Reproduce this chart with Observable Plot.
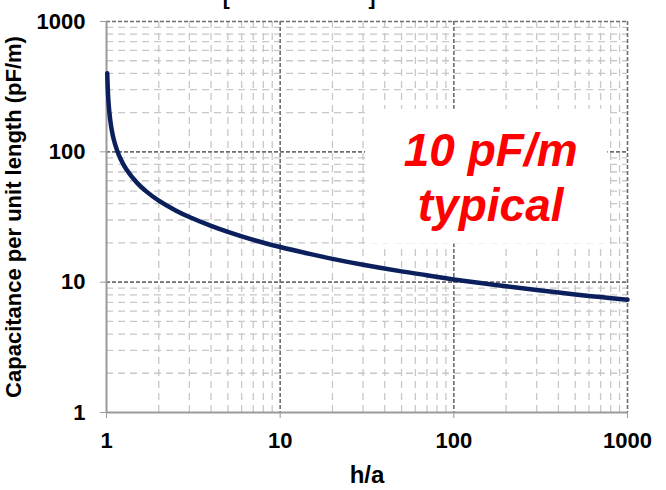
<!DOCTYPE html>
<html>
<head>
<meta charset="utf-8">
<script src="https://cdn.jsdelivr.net/npm/d3@7"></script>
<script src="https://cdn.jsdelivr.net/npm/@observablehq/plot@0.6"></script>
<style>
  html, body { margin: 0; padding: 0; background: white; }
  #chart svg { display: block; }
</style>
</head>
<body>
<div id="chart"></div>
<script>
// Curve: h/a vs capacitance per unit length (pF/m)
const ratio =       [1.01, 1.02, 1.03, 1.05, 1.07, 1.1, 1.15, 1.2, 1.3, 1.5, 1.7, 2, 2.5, 3, 4, 5, 7, 10, 15, 20, 30, 50, 70, 100, 150, 200, 300, 500, 700, 1000];
const capacitance = [400, 279, 228, 177, 149, 125, 103, 89.4, 73.5, 57.8, 49.5, 42.2, 35.5, 31.6, 27.0, 24.3, 21.1, 18.6, 16.4, 15.1, 13.6, 12.1, 11.3, 10.5, 9.75, 9.29, 8.70, 8.05, 7.68, 7.32];

// Tick values
const xMajor = [1, 10, 100, 1000];
const yMajor = [1, 10, 100, 1000];
const xMinor = [2,3,4,5,6,7,8,9,20,30,40,50,60,70,80,90,200,300,400,500,600,700,800,900];
const yMinor = [2,3,4,5,6,7,8,9,20,30,40,50,60,70,80,90,200,300,400,500,600,700,800,900];

// Annotation
const noteLines = ["10 pF/m", "typical"];
const noteX = [163, 163];
const noteY = [100.5, 38.2];
const noteBox = [{x1: 31, x2: 770, y1: 19.6, y2: 212}];

// Cut-off title brackets at the top edge
const bracketText = ["[", "]"];
const bracketX = [4.9, 33.8];
const bracketY = [1497, 1497];

const data = ratio.map((r, i) => ({r, c: capacitance[i]}));
const notes = noteLines.map((t, i) => ({t, x: noteX[i], y: noteY[i]}));
const brackets = bracketText.map((t, i) => ({t, x: bracketX[i], y: bracketY[i]}));

const font = "'Liberation Sans', Arial, Helvetica, sans-serif";

const chart = Plot.plot({
  width: 666,
  height: 490,
  marginLeft: 106,
  marginRight: 39,
  marginTop: 21,
  marginBottom: 78,
  style: {fontFamily: font, fontWeight: "bold", fontSize: "22px", color: "#000", background: "white"},
  x: {type: "log", domain: [1, 1000]},
  y: {type: "log", domain: [1, 1000]},
  marks: [
    Plot.ruleX(xMinor, {stroke: "#c8c8c8", strokeWidth: 1.3, strokeDasharray: "7,5"}),
    Plot.ruleY(yMinor, {stroke: "#c8c8c8", strokeWidth: 1.3, strokeDasharray: "7,5"}),
    Plot.ruleX(xMajor.slice(1), {stroke: "#6e6e6e", strokeWidth: 1.6, strokeDasharray: "4,2"}),
    Plot.ruleY(yMajor.slice(1), {stroke: "#6e6e6e", strokeWidth: 1.6, strokeDasharray: "4,2"}),
    Plot.rect(noteBox, {x1: "x1", x2: "x2", y1: "y1", y2: "y2", fill: "white"}),
    Plot.ruleX([xMajor[0]], {stroke: "#9a9a9a", strokeWidth: 2}),
    Plot.ruleY([yMajor[0]], {stroke: "#9a9a9a", strokeWidth: 2}),
    Plot.line(data, {x: "r", y: "c", stroke: "#0b1f5c", strokeWidth: 4.5, curve: "catmull-rom"}),
    Plot.text(notes, {x: "x", y: "y", text: "t", fill: "#ff0000", fontSize: 46, fontStyle: "italic", fontWeight: "bold", fontFamily: font}),
    Plot.text(brackets, {x: "x", y: "y", text: "t", fill: "#000", fontSize: 21, fontWeight: "bold", fontFamily: font}),
    Plot.axisX({ticks: xMajor, tickFormat: d => String(d), tickSize: 6, tickPadding: 14, stroke: "#9a9a9a", fill: "#000",
      fontSize: 22, label: null}),
    Plot.axisX({ticks: [], tickSize: 0, label: "h/a", labelAnchor: "center", labelArrow: "none", labelOffset: 70, fontSize: 24, fill: "#000"}),
    Plot.axisY({ticks: yMajor, tickFormat: d => String(d), tickSize: 6, tickPadding: 15, stroke: "#9a9a9a", fill: "#000",
      fontSize: 22, label: null}),
    Plot.axisY({ticks: [], tickSize: 0, label: "Capacitance per unit length (pF/m)", labelAnchor: "center", labelArrow: "none", labelOffset: 101, fontSize: 22, fill: "#000"})
  ]
});
document.getElementById("chart").appendChild(chart);
</script>
</body>
</html>
